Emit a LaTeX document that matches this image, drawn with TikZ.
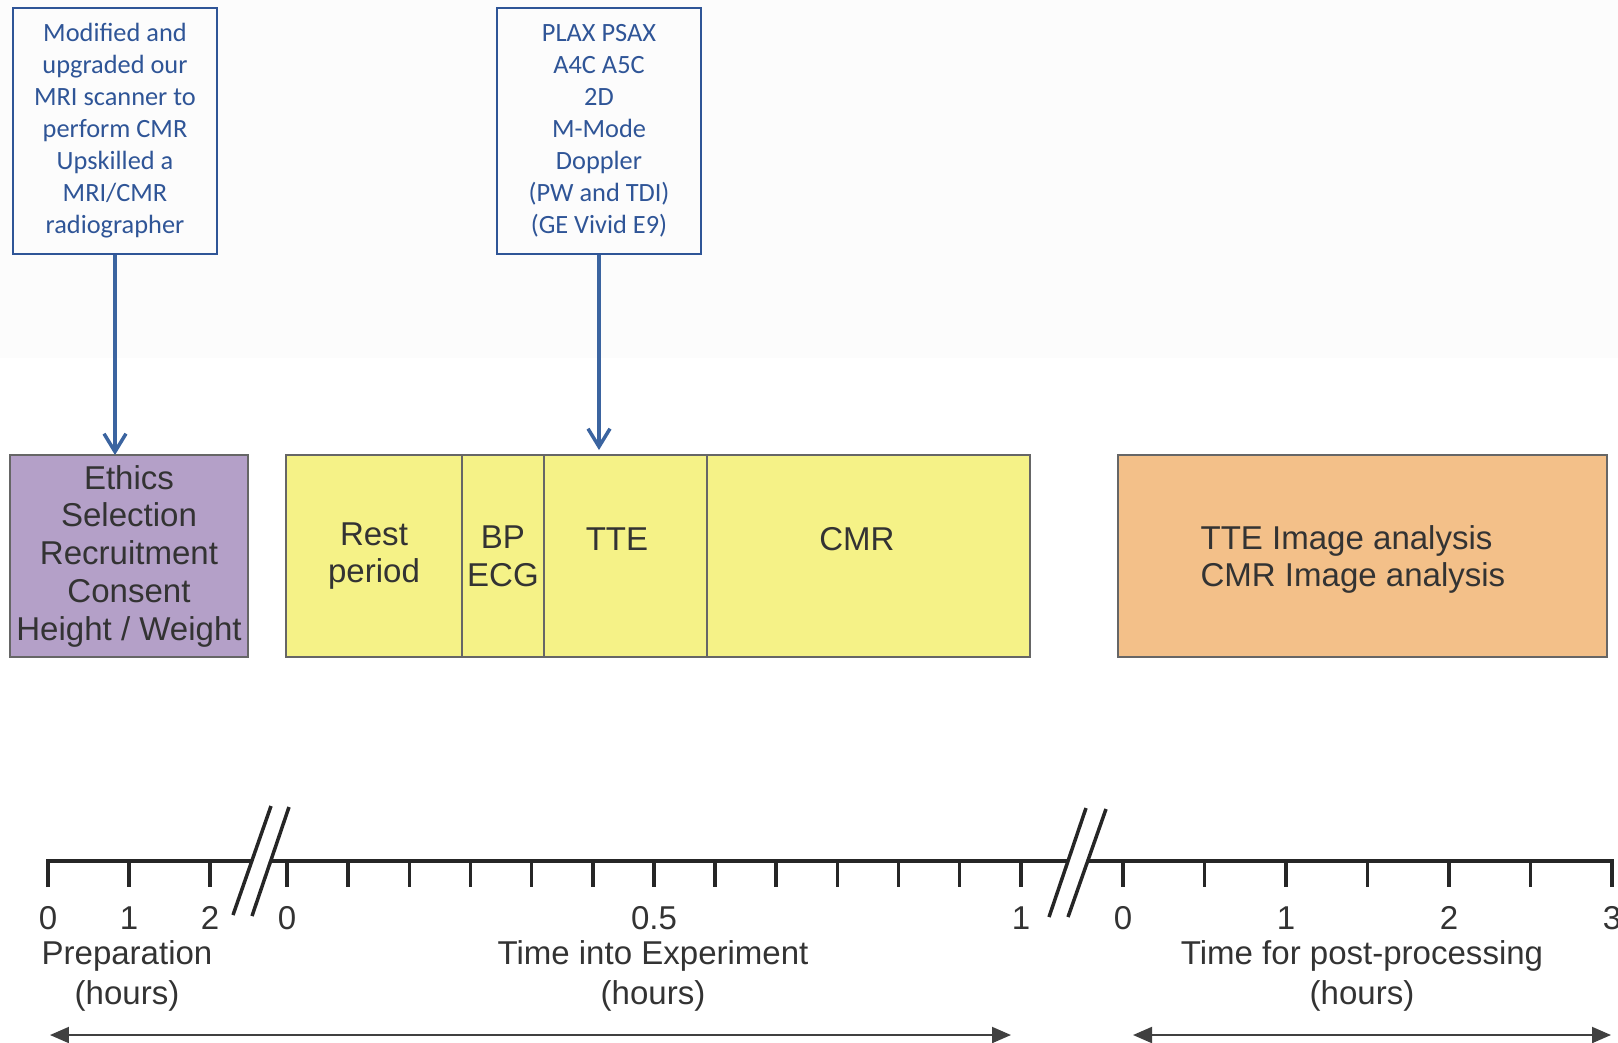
\documentclass[tikz,border=0pt]{standalone}
\usepackage{fontspec}
\setmainfont{Liberation Sans}
\newfontfamily\calfont{Carlito}
\usepackage{xcolor}
\usetikzlibrary{arrows.meta, positioning, calc}

\definecolor{noteblue}{RGB}{47,85,151}
\definecolor{arrowblue}{RGB}{59,100,160}
\definecolor{prepfill}{RGB}{180,160,200}
\definecolor{expfill}{RGB}{245,242,135}
\definecolor{postfill}{RGB}{243,192,137}
\definecolor{inktext}{RGB}{51,51,51}

\begin{document}
\begin{tikzpicture}[
    x=0.02cm, y=-0.02cm,
    node distance=0cm,
    note/.style={rectangle, draw=noteblue, line width=0.035cm, text=noteblue, minimum width=4.08cm, minimum height=4.92cm, align=center, inner sep=0pt, font=\calfont\fontsize{15}{18.2}\selectfont},
    stage/.style={rectangle, draw=black!60, line width=0.05cm, outer sep=0pt, minimum height=4.04cm, align=center, inner sep=0pt, text=inktext, font=\fontsize{18.8}{21.5}\selectfont},
    cell/.style={stage, fill=expfill},
    lbl/.style={inner sep=0pt, text=inktext, align=center, font=\fontsize{18.8}{21.5}\selectfont},
    caption/.style={lbl, font=\fontsize{18.8}{22.7}\selectfont},
    pointer/.style={-{Straight Barb[length=0.36cm, width=0.44cm]}, arrowblue, line width=0.07cm},
    axis/.style={line width=0.07cm, black!85},
    span/.style={{Triangle[length=0.38cm, width=0.32cm]}-{Triangle[length=0.38cm, width=0.32cm]}, line width=0.04cm, black!75}
]
    \useasboundingbox (0,0) rectangle (1618,1042);
    \fill[black!1] (0,0) rectangle (1618,358);

    % notes on top
    \node[note] (upgrade) at (115,131) {Modified and\\upgraded our\\MRI scanner to\\perform CMR\\Upskilled a\\MRI/CMR\\radiographer};
    \node[note] (views) at (599,131) {PLAX PSAX\\A4C A5C\\2D\\M-Mode\\Doppler\\(PW and TDI)\\(GE Vivid E9)};

    % stages
    \node[stage, fill=prepfill, minimum width=4.76cm] (prep) at (129,556) {Ethics\\Selection\\Recruitment\\Consent\\Height / Weight};
    \node[cell, minimum width=3.52cm, anchor=west] (rest) at (286,556) {Rest\\period};
    \node[cell, minimum width=1.64cm, right=of rest] (bp) {BP\\ECG};
    \node[cell, minimum width=3.26cm, right=of bp] (tte) {};
    \node[cell, minimum width=6.46cm, right=of tte] (cmr) {};
    \node[lbl] (ttetext) at ([xshift=-0.17cm, yshift=0.34cm]tte.center) {TTE};
    \node[lbl] (cmrtext) at ([xshift=-0.23cm, yshift=0.34cm]cmr.center) {CMR};
    \node[stage, fill=postfill, minimum width=9.78cm, anchor=west] (post) at (1118,556) {};
    \node[lbl, align=left] (posttext) at ([xshift=-0.19cm, yshift=-0.07cm]post.center) {TTE Image analysis\\CMR Image analysis};

    \draw[pointer] (upgrade.south) -- (upgrade.south |- prep.north);
    \draw[pointer] (views.south) -- ([yshift=0.1cm]views.south |- tte.north);

    % time axis with two breaks
    \draw[axis] (48,887) -- (48,861) -- (252,861);
    \foreach \x in {129,210} \draw[axis] (\x,861) -- ++(0,26);
    \draw[axis] (270,861) -- (1068,861);
    \foreach \i in {0,...,12} \draw[axis] (287+61.15*\i,861) -- ++(0,26);
    \draw[axis] (1088,861) -- (1612,861) -- (1612,887);
    \foreach \i in {0,...,5} \draw[axis] (1123+81.5*\i,861) -- ++(0,26);
    \draw[axis] (233,915) -- (271,806) (252,916) -- (289,807);
    \draw[axis] (1049,917) -- (1086,808) (1068,917) -- (1106,809);

    \foreach \x/\t [count=\n] in {48/0,129/1,210/2,287/0,654/0.5,1021/1,1123/0,1286/1,1449/2,1612/3}
        \node[lbl] (num\n) at (\x,918) {\t};

    \node[caption] (prepcap) at (127,976) {Preparation\\(hours)};
    \node[caption] (expcap) at (653,976) {Time into Experiment\\(hours)};
    \node[caption] (postcap) at (1362,976) {Time for post-processing\\(hours)};

    \coordinate (expstart) at (50,1035);
    \coordinate (expend) at (1011,1035);
    \coordinate (poststart) at (1133,1035);
    \coordinate (postend) at (1611,1035);
    \draw[span] (expstart) -- (expend);
    \draw[span] (poststart) -- (postend);
\end{tikzpicture}
\end{document}
